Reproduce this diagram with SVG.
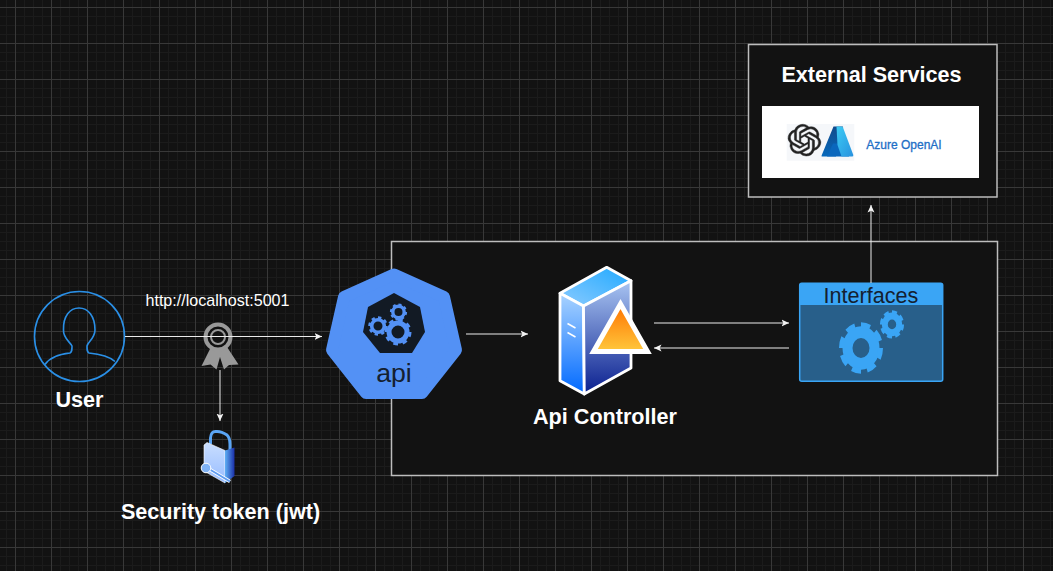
<svg xmlns="http://www.w3.org/2000/svg" width="1053" height="571" viewBox="0 0 1053 571">
<style>
text{font-family:"Liberation Sans",Arial,sans-serif;font-size:21.6px;fill:#fff;text-anchor:middle}
.b{font-weight:700}
.box{fill:#121212;stroke:#bdbdbd;stroke-width:1.5}
.c{fill:none;stroke:#ececec;stroke-width:1;marker-end:url(#arr)}
.f{stroke:#fff;stroke-width:2.8;stroke-linejoin:round}
</style>
<defs>
<pattern id="grid" x="15" y="7" width="36" height="36" patternUnits="userSpaceOnUse">
<path d="M9.5 0V36M18.5 0V36M27.5 0V36M0 9.5H36M0 18.5H36M0 27.5H36" stroke="#1b1b1b" stroke-width="1" fill="none"/>
<path d="M.5 0V36M0 .5H36" stroke="#383838" stroke-width="1" fill="none"/>
</pattern>
<marker id="arr" markerWidth="9" markerHeight="8" refX="7.5" refY="4" orient="auto" markerUnits="userSpaceOnUse"><path d="M0 .5L7.5 4L0 7.500L1.800 4Z" fill="#f2f2f2"/></marker>
<linearGradient id="srvTop" x1="1" y1="0" x2="0" y2="1"><stop offset="0" stop-color="#1fa9ff"/><stop offset="1" stop-color="#8ccbff"/></linearGradient>
<linearGradient id="srvL" x1="0" y1="0" x2="0" y2="1"><stop offset="0" stop-color="#a9d3ff"/><stop offset="1" stop-color="#0069ff"/></linearGradient>
<linearGradient id="srvR" x1="0" y1="0" x2="0" y2="1"><stop offset="0" stop-color="#a9c5f2"/><stop offset="1" stop-color="#0a1f8f"/></linearGradient>
<linearGradient id="tri" x1="0" y1="0" x2="0" y2="1"><stop offset="0" stop-color="#ff7300"/><stop offset="1" stop-color="#ffc83d"/></linearGradient>
<linearGradient id="lockF" x1="0" y1="0" x2="0" y2="1"><stop offset="0" stop-color="#c9deff"/><stop offset="1" stop-color="#97bcff"/></linearGradient>
<linearGradient id="lockS" x1="0" y1="0" x2="1" y2="0"><stop offset="0" stop-color="#5fb0f5"/><stop offset="1" stop-color="#1a2fa8"/></linearGradient>
<linearGradient id="azL" x1="0" y1="0" x2="0" y2="1"><stop offset="0" stop-color="#114a8b"/><stop offset="1" stop-color="#0669bc"/></linearGradient>
<linearGradient id="azR" x1="0" y1="0" x2="1" y2="1"><stop offset="0" stop-color="#3ccbf4"/><stop offset="1" stop-color="#2892df"/></linearGradient>
</defs>
<rect width="1053" height="571" fill="#121212"/>
<rect width="1053" height="571" fill="url(#grid)"/>

<g id="backend-box"><rect class="box" x="391.500" y="241.500" width="606" height="234"/></g>

<g id="external-services">
<rect class="box" x="748.500" y="44.500" width="248.500" height="152.500"/>
<text class="b" x="871.500" y="81.700">External Services</text>
<rect x="762" y="106" width="217" height="72" fill="#fff"/>
<rect x="786.700" y="124" width="67.600" height="36.700" fill="#f5f7fa"/>
<path transform="translate(788 124.300) scale(1.370 1.320)" fill="#222" stroke="#222" stroke-width=".35" d="M22.2819 9.8211a5.9847 5.9847 0 0 0-.5157-4.9108 6.0462 6.0462 0 0 0-6.5098-2.9A6.0651 6.0651 0 0 0 4.9807 4.1818a5.9847 5.9847 0 0 0-3.9977 2.9 6.0462 6.0462 0 0 0 .7427 7.0966 5.98 5.98 0 0 0 .511 4.9107 6.051 6.051 0 0 0 6.5146 2.9001A5.9847 5.9847 0 0 0 13.2599 24a6.0557 6.0557 0 0 0 5.7718-4.2058 5.9894 5.9894 0 0 0 3.9977-2.9001 6.0557 6.0557 0 0 0-.7475-7.0729zm-9.022 12.6081a4.4755 4.4755 0 0 1-2.8764-1.0408l.1419-.0804 4.7783-2.7582a.7948.7948 0 0 0 .3927-.6813v-6.7369l2.02 1.1686a.071.071 0 0 1 .038.052v5.5826a4.504 4.504 0 0 1-4.4945 4.4944zm-9.6607-4.1254a4.4708 4.4708 0 0 1-.5346-3.0137l.142.0852 4.783 2.7582a.7712.7712 0 0 0 .7806 0l5.8428-3.3685v2.3324a.0804.0804 0 0 1-.0332.0615L9.74 19.9502a4.4992 4.4992 0 0 1-6.1408-1.6464zM2.3408 7.8956a4.485 4.485 0 0 1 2.3655-1.9728V11.6a.7664.7664 0 0 0 .3879.6765l5.8144 3.3543-2.0201 1.1685a.0757.0757 0 0 1-.071 0l-4.8303-2.7865A4.504 4.504 0 0 1 2.3408 7.872zm16.5963 3.8558L13.1038 8.364 15.1192 7.2a.0757.0757 0 0 1 .071 0l4.8303 2.7913a4.4944 4.4944 0 0 1-.6765 8.1042v-5.6772a.79.79 0 0 0-.407-.667zm2.0107-3.0231l-.142-.0852-4.7735-2.7818a.7759.7759 0 0 0-.7854 0L9.409 9.2297V6.8974a.0662.0662 0 0 1 .0284-.0615l4.8303-2.7866a4.4992 4.4992 0 0 1 6.6802 4.66zM8.3065 12.863l-2.02-1.1638a.0804.0804 0 0 1-.038-.0567V6.0742a4.4992 4.4992 0 0 1 7.3757-3.4537l-.142.0805L8.704 5.459a.7948.7948 0 0 0-.3927.6813zm1.0976-2.3654l2.602-1.4998 2.6069 1.4998v2.9994l-2.5974 1.4997-2.6067-1.4997Z"/>
<path d="M833.500 126.500H843L836 156.500H822Q821 156.500 821.800 155Z" fill="url(#azL)"/>
<path d="M833 143.500H846L849 156.500H827Z" fill="#0a67bd"/>
<path d="M836.500 126.500H841Q842.500 126.500 843 127.500L853.300 155Q853.600 156.500 852 156.500H841.500L837.500 145Z" fill="url(#azR)"/>
<text x="904" y="149" style="font-size:12px;fill:#1f6fc6;stroke:#1f6fc6;stroke-width:.3">Azure OpenAI</text>
</g>

<g id="user">
<circle cx="79.500" cy="336.500" r="45" fill="none" stroke="#2a8fe6" stroke-width="1.600"/>
<path d="M45 364.500C50 357 60 354 70 353C72 352 72 350 72 346C70 342 63 338 63.500 330C63 316 70 308 79 308C88 308 95 316 95 330C95 338 88 342 87 346C87 350 87 352 89 353C100 354 110 357 115 361.500" fill="none" stroke="#2a8fe6" stroke-width="1.600"/>
<text class="b" x="79.500" y="406.700">User</text>
</g>

<g id="certificate">
<path d="M211 347L201.500 366L210.500 364.500L216.500 369.500L220 357L224 369.500L229 365L238.500 364.500L227 347Z" fill="#999"/>
<circle cx="218" cy="337" r="12.500" fill="#121212" stroke="#999" stroke-width="4"/>
<circle cx="218" cy="337" r="7" fill="none" stroke="#999" stroke-width="2"/>
</g>

<g id="security-token">
<path d="M210.500 444V438Q211 431 216 431.500Q221 431 227 435Q230 438 230 444V452" fill="none" stroke="#5aa5f5" stroke-width="3"/>
<path d="M204 445L207 442.500L225 450.500V483L204 471Z" fill="url(#lockF)" stroke="#fff" stroke-width=".6"/>
<path d="M225 450.500L234.500 447.500V476L225 483Z" fill="url(#lockS)"/>
<path d="M209 469L230 481.500" stroke="#fff" stroke-width="3.600"/>
<path d="M209 469L230 481.500" stroke="#5f9cf0" stroke-width="2"/>
<circle cx="206" cy="468" r="4.800" fill="#7fb2f5" stroke="#fff" stroke-width="1"/>
<text class="b" x="220.500" y="519">Security token (jwt)</text>
</g>

<g id="api">
<polygon points="394,274.500 444,297 456,350 422,393 366,393 332,350 344,297" fill="#5391f5" stroke="#5391f5" stroke-width="12" stroke-linejoin="round"/>
<polygon points="394,293 420,307 425,332 412,353 380,353 363,332 368,307" fill="#121a24"/>
<g fill="none" stroke="#5391f5">
<circle cx="398" cy="332" r="9" stroke-width="5"/>
<circle cx="398" cy="332" r="12" stroke-width="3" pathLength="8" stroke-dasharray=".5 .5"/>
<circle cx="378" cy="326" r="6.300" stroke-width="3.600"/>
<circle cx="378" cy="326" r="8.500" stroke-width="2.500" pathLength="8" stroke-dasharray=".5 .5"/>
<circle cx="398.500" cy="312" r="5.700" stroke-width="3.400"/>
<circle cx="398.500" cy="312" r="7.500" stroke-width="2.200" pathLength="8" stroke-dasharray=".5 .5"/>
</g>
<text x="394" y="381.700" style="font-size:26.700px;fill:#14202f">api</text>
</g>

<g id="api-controller">
<polygon points="606.700,267.300 631,280.700 583.500,306 560,293.300" fill="url(#srvTop)" class="f"/>
<polygon points="560,293.300 583.500,306 584.300,394 560,380.700" fill="url(#srvL)" class="f"/>
<polygon points="583.500,306 631,280.700 631,368 584.300,394" fill="url(#srvR)" class="f"/>
<path d="M567.500 323.500L575.500 328M567.500 332.500L575.500 337" stroke="#fff" stroke-width="1.500"/>
<polygon points="620.500,304 647.500,351.500 593.500,351.500" fill="url(#tri)" stroke="#fff" stroke-width="5" stroke-miterlimit="6"/>
<text class="b" x="605" y="424">Api Controller</text>
</g>

<g id="interfaces">
<rect x="799.700" y="283.300" width="143" height="98" rx="2" fill="#285f8a" stroke="#3aa5f5" stroke-width="1.500"/>
<path d="M799.700 305V285.300Q799.700 283.300 801.700 283.300H940.700Q942.700 283.300 942.700 285.300V305Z" fill="#3aa5f5"/>
<text x="871" y="302.700" style="fill:#14202f">Interfaces</text>
<g transform="translate(861 348) scale(1 1.170)">
<circle r="13.500" fill="none" stroke="#3aa5f5" stroke-width="10"/>
<circle r="19.500" fill="none" stroke="#3aa5f5" stroke-width="5" pathLength="8" stroke-dasharray=".6 .4"/>
</g>
<g transform="translate(892 324.400) scale(1 1.170)">
<circle r="7.200" fill="none" stroke="#3aa5f5" stroke-width="6"/>
<circle r="10.300" fill="none" stroke="#3aa5f5" stroke-width="3.500" pathLength="8" stroke-dasharray=".6 .4"/>
</g>
</g>

<g id="connectors">
<path class="c" d="M125 336.500H322"/>
<path class="c" d="M220 370V421"/>
<path class="c" d="M466 334H528"/>
<path class="c" d="M654 323H789"/>
<path class="c" d="M789 348H654"/>
<path class="c" d="M871 283V205"/>
</g>
<text x="217.500" y="305.700" style="font-size:16.100px">http://localhost:5001</text>
</svg>
